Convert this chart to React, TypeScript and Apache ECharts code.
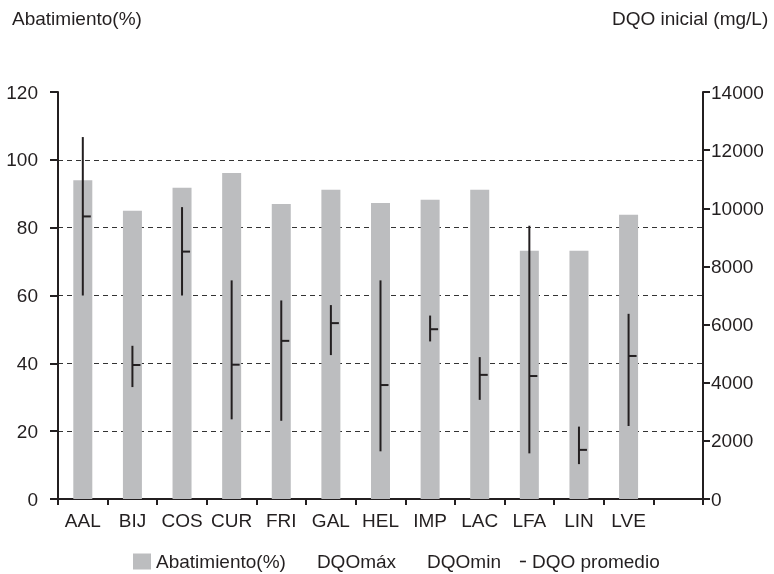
import React, { useEffect, useRef } from "react";
import * as echarts from "echarts";

const categories = ["AAL", "BIJ", "COS", "CUR", "FRI", "GAL", "HEL", "IMP", "LAC", "LFA", "LIN", "LVE", ""];
const abatimiento = [94, 85, 91.8, 96.1, 87, 91.2, 87.3, 88.2, 91.2, 73.2, 73.2, 83.8];
const dqoMax = [12450, 5270, 10040, 7520, 6830, 6670, 7520, 6310, 4880, 9400, 2490, 6370];
const dqoMin = [7000, 3850, 7000, 2740, 2690, 4950, 1640, 5420, 3410, 1570, 1200, 2510];
const dqoProm = [9720, 4610, 8510, 4620, 5440, 6050, 3920, 5840, 4270, 4230, 1690, 4920];
const leftTicks = { min: 0, max: 120, interval: 20 };
const rightTicks = { min: 0, max: 14000, interval: 2000 };

const FONT = "'Liberation Sans', Arial, sans-serif";
const INK = "#231f20";

export default function App() {
  const ref = useRef<HTMLDivElement>(null);
  useEffect(() => {
    if (!ref.current) return;
    const chart = echarts.init(ref.current, null, { renderer: "svg" });
    const rangeData = dqoMax.map((mx, i) => [i, dqoMin[i], mx, dqoProm[i]]);
    chart.setOption({
      animation: false,
      textStyle: { fontFamily: FONT, color: INK },
      grid: { left: 58, right: 71, top: 92, bottom: 75, containLabel: false },
      graphic: [
        { type: "text", left: 12, top: 9, style: { text: "Abatimiento(%)", font: `19px ${FONT}`, fill: INK } },
        { type: "text", left: 612, top: 9, style: { text: "DQO inicial (mg/L)", font: `19px ${FONT}`, fill: INK } },
      ],
      legend: {
        left: 133,
        top: 552,
        padding: 0,
        itemGap: 8,
        itemWidth: 18,
        itemHeight: 16,
        textStyle: { fontFamily: FONT, fontSize: 19, color: INK },
        data: [
          { name: "Abatimiento(%)", icon: "rect" },
          { name: "DQOmáx", icon: "rect", itemStyle: { opacity: 0 } },
          { name: "DQOmin", icon: "rect", itemStyle: { opacity: 0 } },
          { name: "DQO promedio", icon: "path://M0,0M18,16M11,7.2H17V8.8H11Z", itemStyle: { color: INK } },
        ],
      },
      xAxis: {
        type: "category",
        data: categories,
        boundaryGap: true,
        axisLine: { lineStyle: { color: INK, width: 2 } },
        axisTick: { show: true, length: 6, alignWithLabel: false, lineStyle: { color: INK, width: 2 } },
        axisLabel: { fontFamily: FONT, fontSize: 19, color: INK, margin: 12, interval: 0 },
      },
      yAxis: [
        {
          type: "value",
          ...leftTicks,
          position: "left",
          axisLine: { show: true, lineStyle: { color: INK, width: 2 } },
          axisTick: { show: true, length: 8, lineStyle: { color: INK, width: 2 } },
          axisLabel: { fontFamily: FONT, fontSize: 19, color: INK, margin: 20 },
          splitLine: {
            show: true,
            showMinLine: false,
            showMaxLine: false,
            lineStyle: { color: "#333", type: [5, 4], width: 1.2 },
          },
        },
        {
          type: "value",
          ...rightTicks,
          position: "right",
          axisLine: { show: true, lineStyle: { color: INK, width: 2 } },
          axisTick: { show: true, length: 7, lineStyle: { color: INK, width: 2 } },
          axisLabel: { fontFamily: FONT, fontSize: 19, color: INK, margin: 8, formatter: (v: number) => String(v) },
          splitLine: { show: false },
        },
      ],
      series: [
        {
          name: "Abatimiento(%)",
          type: "bar",
          yAxisIndex: 0,
          data: abatimiento,
          barWidth: 19,
          z: 2,
          itemStyle: { color: "#bcbdbf" },
        },
        {
          name: "DQOmáx",
          type: "line",
          yAxisIndex: 1,
          data: dqoMax,
          symbol: "none",
          lineStyle: { opacity: 0, width: 0 },
          itemStyle: { color: INK },
        },
        {
          name: "DQOmin",
          type: "line",
          yAxisIndex: 1,
          data: dqoMin,
          symbol: "none",
          lineStyle: { opacity: 0, width: 0 },
          itemStyle: { color: INK },
        },
        {
          name: "DQO promedio",
          type: "custom",
          yAxisIndex: 1,
          z: 10,
          data: rangeData,
          encode: { x: 0, y: [1, 2, 3] },
          itemStyle: { color: INK },
          renderItem: (params: any, api: any) => {
            const idx = api.value(0);
            const pMin = api.coord([idx, api.value(1)]);
            const pMax = api.coord([idx, api.value(2)]);
            const pAvg = api.coord([idx, api.value(3)]);
            const st = { stroke: INK, lineWidth: 2 };
            return {
              type: "group",
              children: [
                { type: "line", shape: { x1: pMin[0], y1: pMin[1], x2: pMax[0], y2: pMax[1] }, style: st },
                { type: "line", shape: { x1: pAvg[0], y1: pAvg[1], x2: pAvg[0] + 8, y2: pAvg[1] }, style: st },
              ],
            };
          },
        },
      ],
    });
    return () => chart.dispose();
  }, []);
  return <div ref={ref} style={{ position: "fixed", left: 0, top: 0, width: 774, height: 574 }} />;
}
